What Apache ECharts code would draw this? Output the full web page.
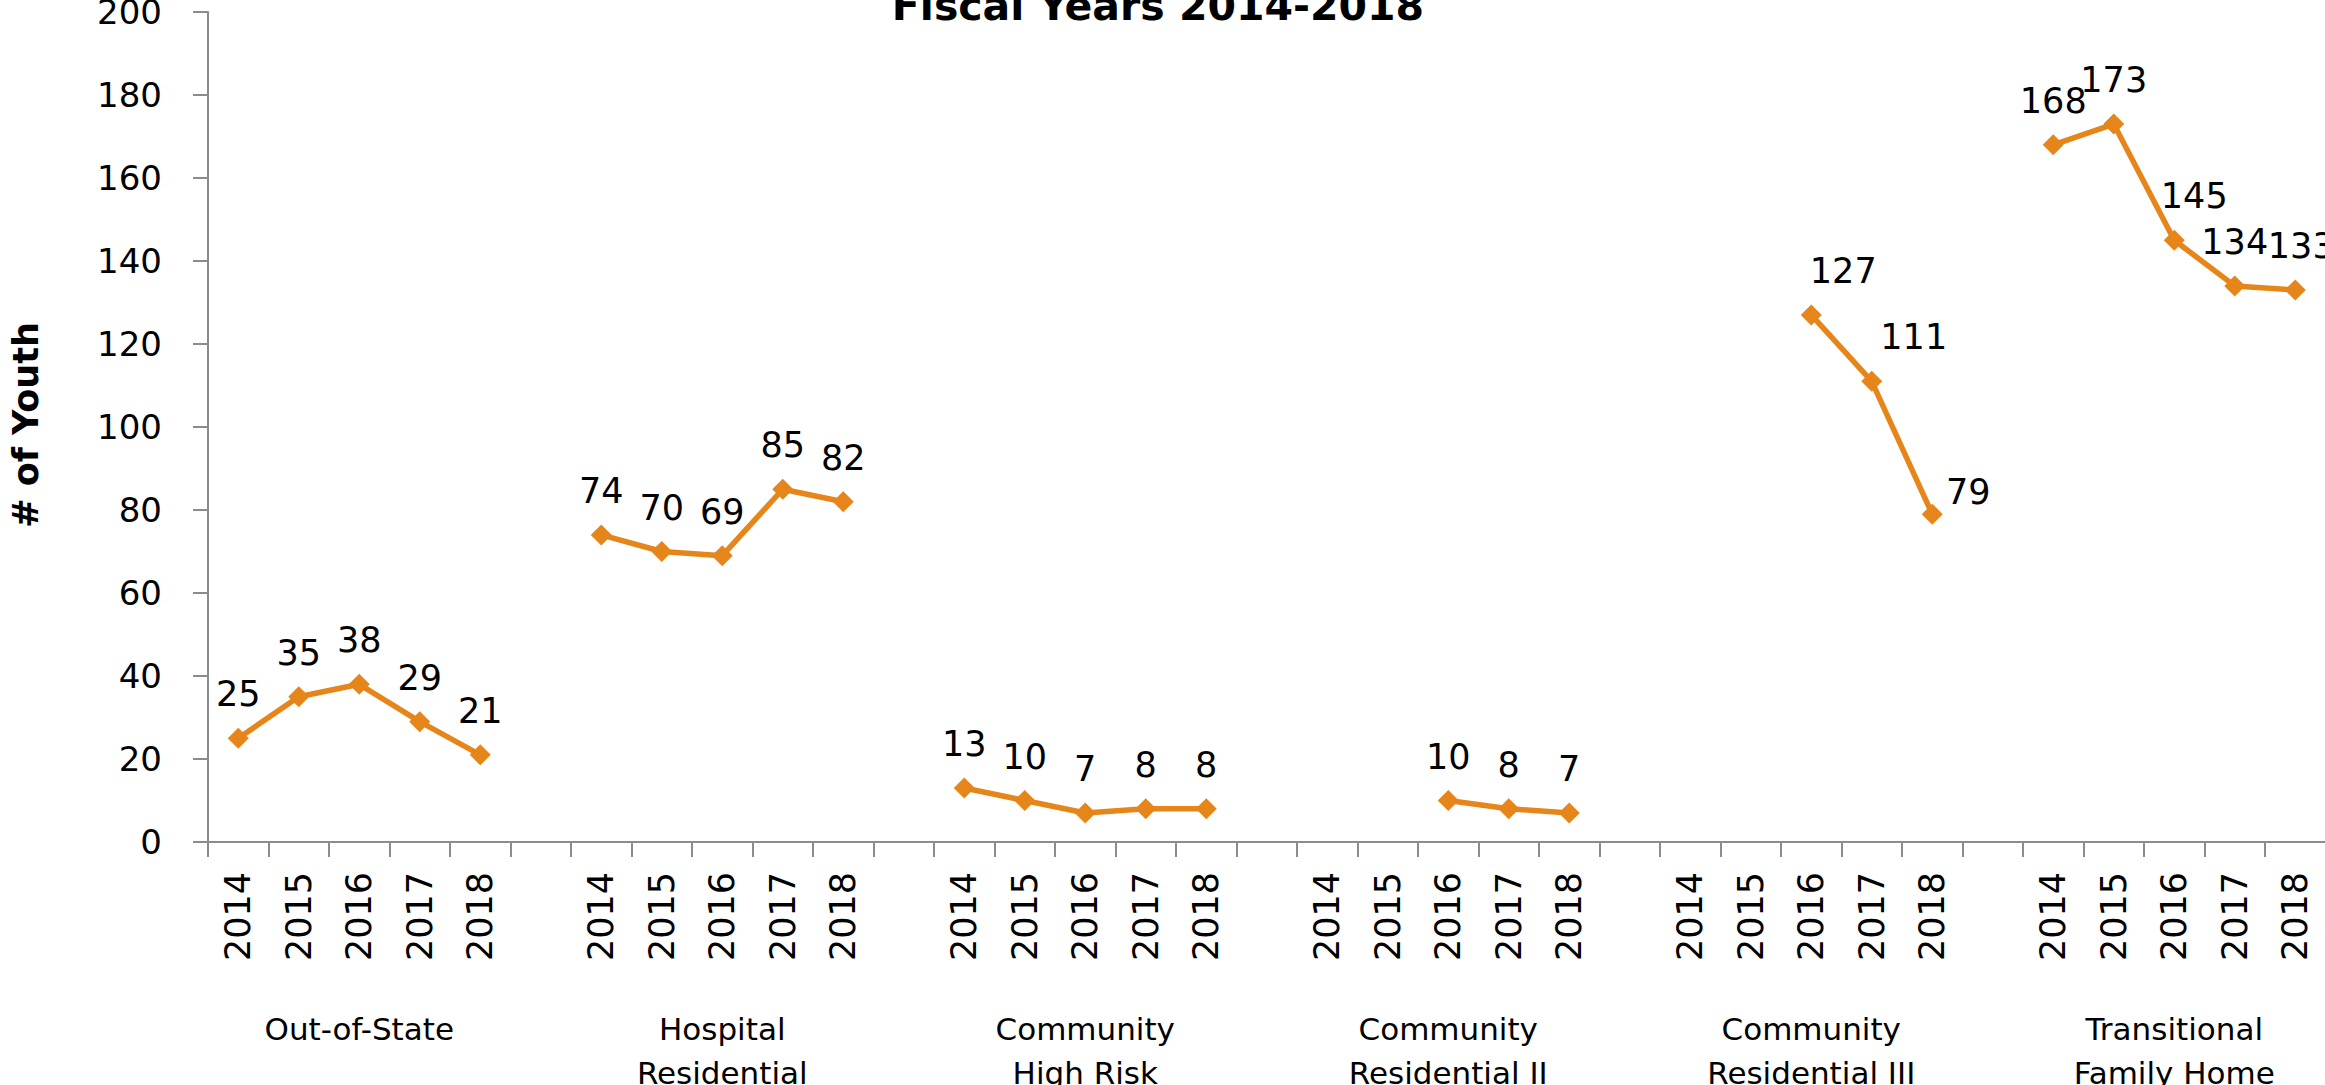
<!DOCTYPE html>
<html>
<head>
<meta charset="utf-8">
<title>Fiscal Years 2014-2018</title>
<script src="https://cdn.jsdelivr.net/npm/echarts@6/dist/echarts.min.js"></script>
<style>
  html, body { margin: 0; padding: 0; background: #ffffff; }
  #chart { width: 2325px; height: 1085px; }
</style>
</head>
<body>
<div id="chart"></div>
<script>
// Fiscal years shown for every program
const years = ['2014', '2015', '2016', '2017', '2018'];

// Program names (group labels under the year ticks)
const programs = [
  'Out-of-State',
  'Hospital\nResidential',
  'Community\nHigh Risk',
  'Community\nResidential II',
  'Community\nResidential III',
  'Transitional\nFamily Home'
];

// Number of youth per fiscal year, one array per program (null = no data)
const outOfState = [25, 35, 38, 29, 21];
const hospitalResidential = [74, 70, 69, 85, 82];
const communityHighRisk = [13, 10, 7, 8, 8];
const communityResidentialII = [null, null, 10, 8, 7];
const communityResidentialIII = [null, null, 127, 111, 79];
const transitionalFamilyHome = [168, 173, 145, 134, 133];

// Y axis ticks
const yTicks = [0, 20, 40, 60, 80, 100, 120, 140, 160, 180, 200];

const programValues = [
  outOfState,
  hospitalResidential,
  communityHighRisk,
  communityResidentialII,
  communityResidentialIII,
  transitionalFamilyHome
];

// Label nudges for a few crowded points: [program index, year index, dx, dy]
const labelNudges = [
  [4, 2, 32, 0],
  [4, 3, 42, 0],
  [4, 4, 36, 22],
  [5, 2, 20, 0],
  [5, 4, 6, 0]
];

// Build the flat category axis: five years per program plus one spacer slot
const yearCategories = [];
const groupCategories = [];
const lineData = [];
programValues.forEach(function (vals, p) {
  years.forEach(function (y, i) {
    yearCategories.push(y);
    groupCategories.push(i === 2 ? programs[p] : '');
    const item = { value: vals[i] == null ? null : vals[i] };
    labelNudges.forEach(function (n) {
      if (n[0] === p && n[1] === i) {
        item.label = { offset: [n[2], n[3]] };
      }
    });
    lineData.push(item);
  });
  yearCategories.push('');
  groupCategories.push('');
  lineData.push({ value: null });
});

const FONT = '"DejaVu Sans", "Open Sans", sans-serif';
const AXIS_GRAY = '#8c8c8c';
const ORANGE = '#e5851a';

const chart = echarts.init(document.getElementById('chart'), null, { renderer: 'svg' });

chart.setOption({
  backgroundColor: '#ffffff',
  animation: false,
  grid: {
    left: 208,
    top: 12,
    right: -61,
    height: 830,
    containLabel: false,
    outerBoundsMode: 'none'
  },
  graphic: [
    {
      type: 'text',
      x: 1158,
      y: 6,
      style: {
        text: 'Fiscal Years 2014-2018',
        font: 'bold 41px ' + FONT,
        fill: '#000000',
        align: 'center',
        verticalAlign: 'middle'
      }
    },
    {
      type: 'text',
      x: 26,
      y: 425,
      rotation: Math.PI / 2,
      style: {
        text: '# of Youth',
        font: 'bold 35px ' + FONT,
        fill: '#000000',
        align: 'center',
        verticalAlign: 'middle'
      }
    }
  ],
  xAxis: [
    {
      type: 'category',
      data: yearCategories,
      boundaryGap: true,
      axisLine: { lineStyle: { color: AXIS_GRAY, width: 2 } },
      axisTick: { show: true, interval: 0, length: 15, lineStyle: { color: AXIS_GRAY, width: 2 } },
      axisLabel: {
        interval: 0,
        rotate: 90,
        margin: 30,
        color: '#000000',
        fontFamily: FONT,
        fontSize: 35
      },
      splitLine: { show: false }
    },
    {
      type: 'category',
      data: groupCategories,
      position: 'bottom',
      boundaryGap: true,
      axisLine: { show: false },
      axisTick: { show: false },
      axisLabel: {
        interval: 0,
        margin: 165,
        color: '#000000',
        fontFamily: FONT,
        fontSize: 31,
        lineHeight: 44,
        align: 'center',
        verticalAlign: 'top'
      },
      splitLine: { show: false }
    }
  ],
  yAxis: {
    type: 'value',
    min: yTicks[0],
    max: yTicks[yTicks.length - 1],
    interval: yTicks[1] - yTicks[0],
    axisLine: { show: true, lineStyle: { color: AXIS_GRAY, width: 2 } },
    axisTick: { show: true, length: 15, lineStyle: { color: AXIS_GRAY, width: 2 } },
    axisLabel: {
      margin: 46,
      color: '#000000',
      fontFamily: FONT,
      fontSize: 34
    },
    splitLine: { show: false }
  },
  series: [
    {
      type: 'line',
      xAxisIndex: 0,
      data: lineData,
      connectNulls: false,
      symbol: 'diamond',
      symbolSize: 21,
      showAllSymbol: true,
      itemStyle: { color: ORANGE },
      lineStyle: { color: ORANGE, width: 5.5 },
      label: {
        show: true,
        position: 'top',
        distance: 16,
        color: '#000000',
        fontFamily: FONT,
        fontSize: 35,
        lineHeight: 35
      }
    }
  ]
});
</script>
</body>
</html>
